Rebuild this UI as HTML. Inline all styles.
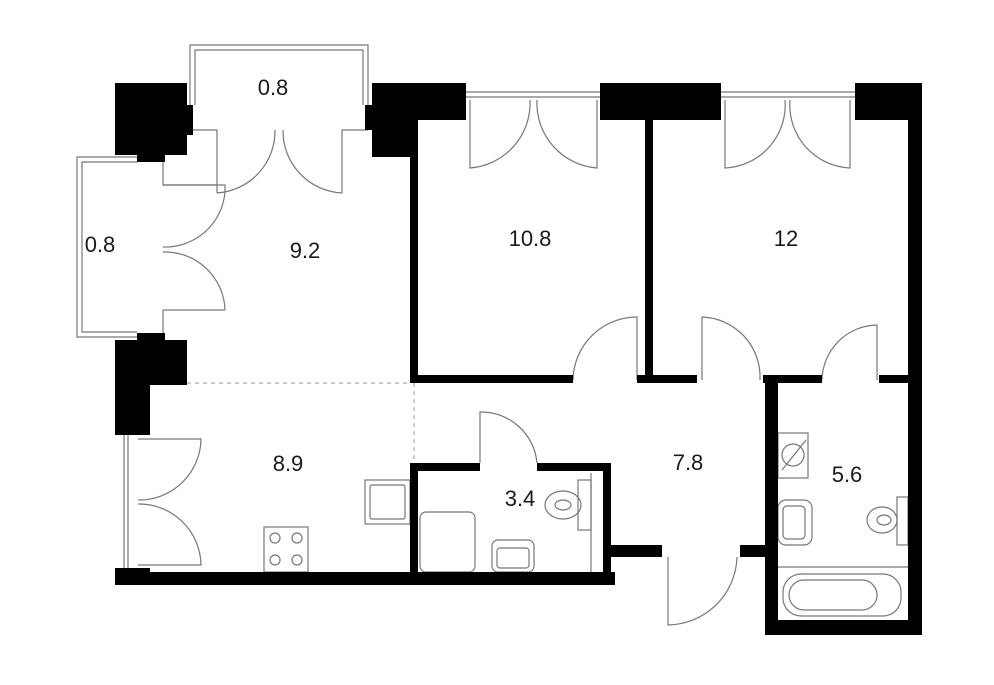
<!DOCTYPE html>
<html><head><meta charset="utf-8"><style>
html,body{margin:0;padding:0;background:#fff}
svg{display:block}
text{font-family:"Liberation Sans",sans-serif;font-size:22px;fill:#1a1a1a;text-anchor:middle}
</style></head><body>
<svg width="994" height="685" viewBox="0 0 994 685" xmlns="http://www.w3.org/2000/svg">
<rect width="994" height="685" fill="#fff"/>
<g fill="none" stroke="#777" stroke-width="1.2">
<path d="M190 105 V45 H368 V105"/><path d="M195 105 V50 H363 V105"/>
<path d="M137 157 H77 V337 H137"/><path d="M137 162 H82 V332 H137"/>
<path d="M466 92 H600 M466 97 H600"/><path d="M721 92 H855 M721 97 H855"/>
<path d="M124 435 V570 M128 435 V570"/>
<path d="M193 130 H217 V193 M342 193 V130 H368"/>
<path d="M163 162 V185 H217"/>
<path d="M163 310 V335"/>
<path d="M217 193 A62 62 0 0 0 275 130"/><path d="M342 193 A62 62 0 0 1 283 130"/>
<path d="M163 185 H225 V192 M225 192 A60 60 0 0 1 163 247"/>
<path d="M163 310 H225 M225 310 A60 60 0 0 0 163 252"/>
<path d="M470 100 V168 A65 65 0 0 0 530 100"/><path d="M597 100 V168 A65 65 0 0 1 537 100"/>
<path d="M725 100 V168 A63 63 0 0 0 785 100"/><path d="M850 100 V168 A63 63 0 0 1 790 100"/>
<path d="M637 380 V317 A64 64 0 0 0 573 380"/>
<path d="M702 380 V317 A60 60 0 0 1 760 380"/>
<path d="M877 380 V325 A56 56 0 0 0 822 380"/>
<path d="M480 463 V412 A56 56 0 0 1 537 463"/>
<path d="M668 557 V625 A70 70 0 0 0 737 557"/>
<path d="M138 439 H201 A62 62 0 0 1 138 500"/><path d="M138 565 H201 A62 62 0 0 0 138 504"/>
<rect x="365" y="480" width="45" height="44"/><rect x="370" y="485" width="35" height="34" rx="2"/>
<rect x="264" y="527" width="44" height="45"/>
<circle cx="275" cy="538" r="5"/><circle cx="297" cy="538" r="5"/><circle cx="275" cy="560" r="5"/><circle cx="297" cy="560" r="5"/>
<rect x="420" y="512" width="55" height="60" rx="6"/>
<rect x="492" y="540" width="42" height="32" rx="6"/><rect x="497" y="548" width="32" height="20" rx="3"/>
<rect x="578" y="480" width="13" height="50"/><path d="M591 473 V572"/>
<ellipse cx="563" cy="505" rx="18" ry="14"/><ellipse cx="563" cy="505" rx="8" ry="5"/>
<rect x="778" y="433" width="30" height="45"/><path d="M782 470 L806 440"/><circle cx="793" cy="455" r="11"/>
<rect x="778" y="500" width="34" height="45" rx="8"/><rect x="783" y="506" width="22" height="33" rx="4"/>
<rect x="897" y="497" width="11" height="48"/><ellipse cx="882" cy="520" rx="15" ry="13"/><ellipse cx="884" cy="520" rx="7" ry="5"/>
<path d="M778 567 H908"/><rect x="783" y="574" width="118" height="42" rx="18"/><rect x="789" y="580" width="88" height="30" rx="15"/>
</g>
<g fill="none" stroke="#999" stroke-width="1" stroke-dasharray="4 4">
<path d="M187 383 H410 M414 383 V463"/>
</g>
<g fill="#000">
<rect x="115" y="83" width="72" height="72"/><rect x="185" y="105" width="8" height="30"/><rect x="137" y="153" width="28" height="9"/>
<rect x="372" y="83" width="94" height="37"/><rect x="372" y="83" width="43" height="74"/><rect x="365" y="105" width="8" height="25"/>
<rect x="410" y="120" width="8" height="263"/>
<rect x="600" y="83" width="121" height="37"/><rect x="645" y="118" width="8" height="262"/>
<rect x="855" y="83" width="67" height="37"/><rect x="908" y="83" width="14" height="552"/>
<rect x="410" y="375" width="163" height="8"/><rect x="637" y="375" width="60" height="8"/><rect x="645" y="340" width="8" height="40"/>
<rect x="763" y="375" width="59" height="8"/><rect x="879" y="375" width="29" height="8"/>
<rect x="765" y="378" width="13" height="257"/><rect x="765" y="620" width="157" height="15"/>
<rect x="740" y="545" width="35" height="12"/><rect x="603" y="545" width="59" height="12"/>
<rect x="410" y="463" width="70" height="8"/><rect x="537" y="463" width="74" height="8"/>
<rect x="603" y="463" width="8" height="120"/><rect x="410" y="463" width="8" height="115"/>
<rect x="115" y="572" width="500" height="13"/><rect x="115" y="568" width="35" height="17"/>
<rect x="115" y="340" width="72" height="45"/><rect x="137" y="333" width="28" height="9"/><rect x="115" y="383" width="35" height="52"/>
</g>
<text x="273" y="95">0.8</text>
<text x="100" y="252">0.8</text>
<text x="305" y="258">9.2</text>
<text x="530" y="246">10.8</text>
<text x="786" y="246">12</text>
<text x="288" y="471">8.9</text>
<text x="520" y="506">3.4</text>
<text x="688" y="470">7.8</text>
<text x="847" y="482">5.6</text>
</svg>
</body></html>
